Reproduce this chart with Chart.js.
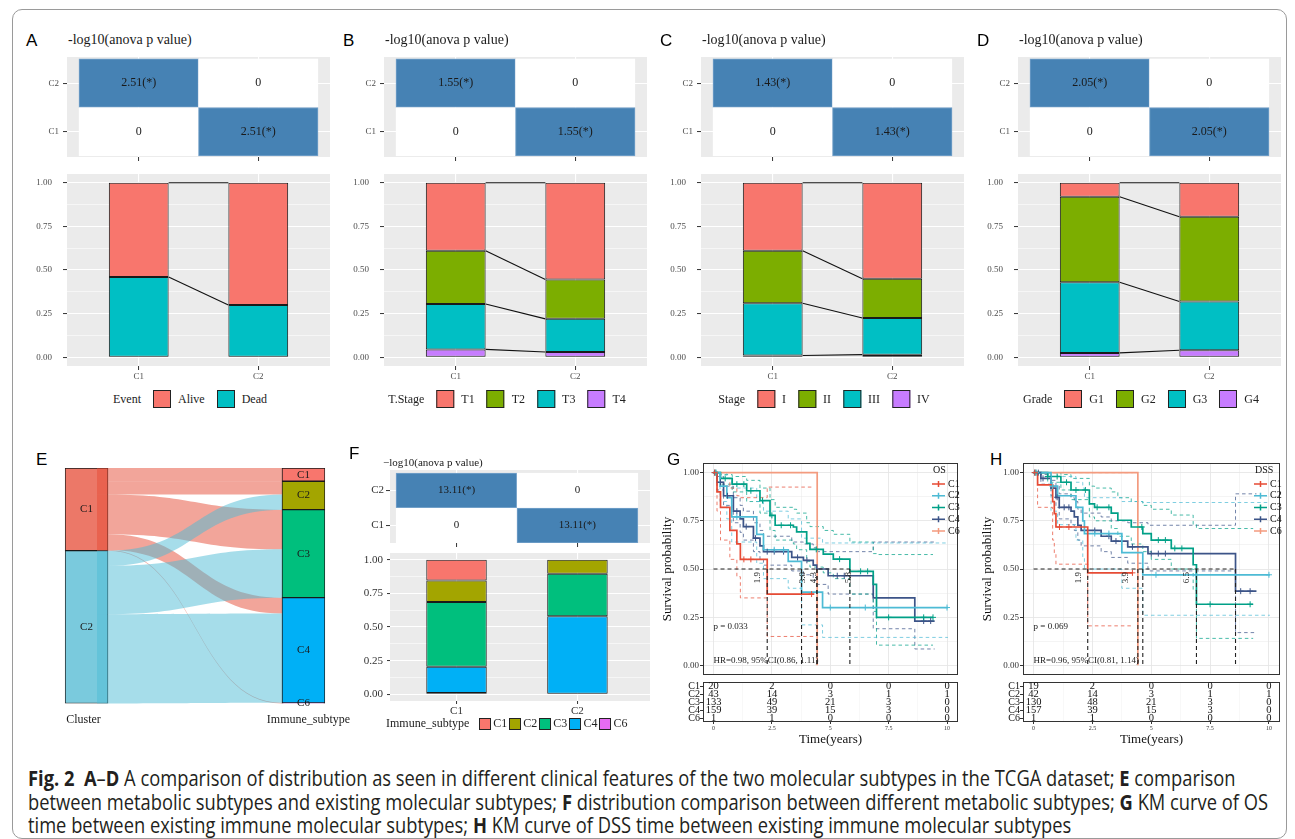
<!DOCTYPE html>
<html>
<head>
<meta charset="utf-8">
<title>Fig. 2</title>
<script src="https://cdn.jsdelivr.net/npm/chart.js@4.4.1/dist/chart.umd.min.js"></script>
<style>
  html, body { margin: 0; padding: 0; background: #fff; }
  #fig { position: relative; width: 1295px; height: 839px; overflow: hidden;
         font-family: "Liberation Serif", "Times New Roman", serif; color: #1a1a1a; }
  #fig canvas { position: absolute; }
  .t { position: absolute; white-space: nowrap; line-height: 1; }
  .legend { position: absolute; display: flex; align-items: center; white-space: nowrap; color: #222; }
  .legend .box { display: inline-block; box-sizing: border-box; border: 1px solid #222; }
  #frame { position: absolute; left: 12px; top: 9px; width: 1273px; height: 828px;
           border: 1px solid #9a9a9a; border-radius: 10px; }
  #caption { position: absolute; left: 28px; top: 767px; transform-origin: 0 0;
             font-family: "Open Sans", "Noto Sans", sans-serif;
             font-size: 21px; line-height: 23.5px; color: #231f20; white-space: nowrap; }
  #caption b { font-weight: 700; }
</style>
</head>
<body>
<div id="fig"><div id="frame"></div></div>
<script>
// ---------- A-D: clinical features by cluster ----------
const clusters = ['C1', 'C2'];
const anovaScores = [2.51, 1.55, 1.43, 2.05];

const eventLevels = ['Alive', 'Dead'];
const eventAlive = [0.54, 0.70];
const eventDead = [0.46, 0.30];

const tStageLevels = ['T1', 'T2', 'T3', 'T4'];
const tStageT1 = [0.39, 0.555];
const tStageT2 = [0.305, 0.225];
const tStageT3 = [0.26, 0.19];
const tStageT4 = [0.045, 0.03];

const stageLevels = ['I', 'II', 'III', 'IV'];
const stageI = [0.39, 0.55];
const stageII = [0.30, 0.225];
const stageIII = [0.30, 0.21];
const stageIV = [0.01, 0.015];

const gradeLevels = ['G1', 'G2', 'G3', 'G4'];
const gradeG1 = [0.08, 0.195];
const gradeG2 = [0.49, 0.485];
const gradeG3 = [0.405, 0.28];
const gradeG4 = [0.025, 0.04];

// ---------- E/F: immune subtypes ----------
const immuneLevels = ['C1', 'C2', 'C3', 'C4', 'C6'];
const flowFromC1 = [20, 20, 60, 24, 1];
const flowFromC2 = [0, 23, 73, 135, 0];
const immuneScore = 13.11;
const immuneC1 = [0.155, 0];
const immuneC2 = [0.16, 0.105];
const immuneC3 = [0.48, 0.315];
const immuneC4 = [0.195, 0.577];
const immuneC6 = [0.01, 0.003];

// ---------- G/H: survival ----------
const kmGroups = ['C1', 'C2', 'C3', 'C4', 'C6'];
const probTicks = [0, 0.125, 0.25, 0.375, 0.5, 0.625, 0.75, 0.875, 1];
const kmGridTimes = [0, 1.25, 2.5, 3.75, 5, 6.25, 7.5, 8.75, 10];
const riskTimes = [0, 2.5, 5, 7.5, 10];

const osTimeC1 = [0, 0.15, 0.3, 0.7, 1.0, 1.15, 2.3, 4.3];
const osSurvC1 = [1, 0.90, 0.82, 0.70, 0.63, 0.55, 0.37, 0.37];
const osUpperC1 = [1, 1, 0.97, 0.92, 0.88, 0.87, 0.925, 0.925];
const osLowerC1 = [1, 0.80, 0.65, 0.55, 0.46, 0.35, 0.15, 0.15];
const osCensorC1 = [0.05, 1.3, 1.6, 4.2];

const osTimeC2 = [0, 0.28, 0.57, 0.78, 1.85, 2.14, 3.2, 3.77, 4.67, 10.04];
const osSurvC2 = [1, 0.93, 0.87, 0.77, 0.68, 0.60, 0.54, 0.38, 0.30, 0.30];
const osUpperC2 = [1, 1, 0.97, 0.92, 0.85, 0.80, 0.76, 0.66, 0.635, 0.635];
const osLowerC2 = [1, 0.85, 0.76, 0.64, 0.53, 0.45, 0.40, 0.21, 0.145, 0.145];
const osCensorC2 = [0.1, 1.0, 2.6, 3.0, 5.0, 6.5, 10.0];

const osTimeC3 = [0, 0.3, 0.8, 1.42, 1.99, 2.42, 2.64, 3.42, 3.56, 3.99, 4.13, 4.7, 5.13, 5.84, 6.84, 6.98, 9.4];
const osSurvC3 = [1, 0.97, 0.94, 0.906, 0.855, 0.778, 0.727, 0.718, 0.693, 0.633, 0.602, 0.577, 0.551, 0.488, 0.42, 0.249, 0.249];
const osUpperC3 = [1, 0.99, 0.98, 0.96, 0.92, 0.86, 0.82, 0.81, 0.79, 0.74, 0.72, 0.70, 0.68, 0.64, 0.58, 0.575, 0.575];
const osLowerC3 = [1, 0.94, 0.90, 0.85, 0.79, 0.70, 0.65, 0.63, 0.60, 0.54, 0.51, 0.48, 0.45, 0.37, 0.28, 0.105, 0.105];
const osCensorC3 = [0.1, 0.5, 1.0, 1.3, 1.6, 2.1, 2.5, 2.9, 3.3, 4.4, 5.4, 6.3, 6.6, 7.5, 9.0, 9.4];

const osTimeC4 = [0, 0.15, 0.43, 0.85, 1.14, 1.28, 1.71, 1.99, 2.14, 3.35, 3.85, 4.27, 4.42, 4.91, 6.84, 8.62, 9.47];
const osSurvC4 = [1, 0.95, 0.88, 0.80, 0.76, 0.72, 0.66, 0.62, 0.59, 0.56, 0.545, 0.52, 0.50, 0.465, 0.35, 0.23, 0.23];
const osUpperC4 = [1, 0.98, 0.93, 0.87, 0.83, 0.80, 0.74, 0.70, 0.67, 0.64, 0.63, 0.61, 0.59, 0.59, 0.64, 0.64, 0.64];
const osLowerC4 = [1, 0.91, 0.83, 0.74, 0.69, 0.65, 0.59, 0.55, 0.52, 0.49, 0.47, 0.44, 0.42, 0.37, 0.19, 0.085, 0.085];
const osCensorC4 = [0.05, 0.3, 0.6, 1.0, 1.4, 1.8, 2.3, 2.6, 3.0, 3.6, 4.0, 5.3, 5.6, 9.0, 9.3];

const osTimeC6 = [0, 4.44];
const osSurvC6 = [1, 0];

const osMedians = [2.3, 3.77, 4.42, 4.44, 5.84];
const osMedianLabels = ['1.9', '3.8', '4.3', '5.8'];
const osRiskC1 = [20, 2, 0, 0, 0];
const osRiskC2 = [43, 14, 3, 1, 1];
const osRiskC3 = [133, 49, 21, 3, 0];
const osRiskC4 = [159, 39, 15, 3, 0];
const osRiskC6 = [1, 1, 0, 0, 0];

const dssTimeC1 = [0, 0.17, 0.81, 0.88, 0.95, 2.3, 4.22];
const dssSurvC1 = [1, 0.937, 0.85, 0.787, 0.718, 0.48, 0.48];
const dssUpperC1 = [1, 1, 1, 1, 1, 1, 1];
const dssLowerC1 = [1, 0.82, 0.65, 0.58, 0.525, 0.205, 0.205];
const dssCensorC1 = [0.05, 1.1, 1.5, 4.2];

const dssTimeC2 = [0, 0.74, 1.02, 1.8, 2.09, 2.16, 3.75, 4.64, 10.04];
const dssSurvC2 = [1, 0.93, 0.88, 0.82, 0.75, 0.684, 0.585, 0.47, 0.47];
const dssUpperC2 = [1, 1, 0.98, 0.95, 0.92, 0.87, 0.85, 0.845, 0.845];
const dssLowerC2 = [1, 0.80, 0.73, 0.65, 0.56, 0.50, 0.40, 0.26, 0.26];
const dssCensorC2 = [0.1, 0.8, 2.6, 3.2, 5.2, 6.9, 10.0];

const dssTimeC3 = [0, 0.6, 1.16, 1.59, 2.37, 2.59, 3.3, 3.58, 4.15, 4.64, 5.0, 5.85, 6.78, 6.92, 9.33];
const dssSurvC3 = [1, 0.98, 0.95, 0.91, 0.838, 0.82, 0.79, 0.753, 0.718, 0.684, 0.65, 0.607, 0.522, 0.317, 0.317];
const dssUpperC3 = [1, 1, 0.99, 0.97, 0.93, 0.92, 0.90, 0.87, 0.85, 0.83, 0.81, 0.78, 0.73, 0.71, 0.71];
const dssLowerC3 = [1, 0.95, 0.91, 0.86, 0.77, 0.75, 0.71, 0.67, 0.63, 0.59, 0.55, 0.50, 0.39, 0.14, 0.14];
const dssCensorC3 = [0.1, 0.6, 1.0, 1.4, 1.8, 2.2, 2.7, 3.2, 4.6, 5.3, 5.6, 6.0, 6.3, 7.5, 9.2];

const dssTimeC4 = [0, 0.31, 0.74, 0.95, 1.09, 1.59, 1.73, 1.88, 2.02, 2.87, 3.3, 4.0, 4.86, 8.58, 9.47];
const dssSurvC4 = [1, 0.97, 0.92, 0.872, 0.82, 0.80, 0.77, 0.727, 0.70, 0.67, 0.645, 0.615, 0.58, 0.385, 0.385];
const dssUpperC4 = [1, 0.99, 0.96, 0.93, 0.89, 0.87, 0.85, 0.81, 0.79, 0.77, 0.75, 0.74, 0.727, 0.89, 0.89];
const dssLowerC4 = [1, 0.94, 0.88, 0.82, 0.76, 0.73, 0.70, 0.65, 0.62, 0.59, 0.56, 0.53, 0.49, 0.17, 0.17];
const dssCensorC4 = [0.05, 0.2, 0.4, 1.0, 1.3, 1.5, 2.6, 3.2, 3.5, 4.2, 5.0, 5.3, 5.6, 8.8, 9.2];

const dssTimeC6 = [0, 4.43];
const dssSurvC6 = [1, 0];

const dssMedians = [2.3, 4.43, 4.64, 6.92, 8.58];
const dssMedianLabels = ['1.9', '3.9', '6.5'];
const dssRiskC1 = [19, 2, 0, 0, 0];
const dssRiskC2 = [42, 14, 3, 1, 1];
const dssRiskC3 = [130, 48, 21, 3, 0];
const dssRiskC4 = [157, 39, 15, 3, 0];
const dssRiskC6 = [1, 1, 0, 0, 0];

// ---------- styles ----------
const hue2 = ['#F8766D', '#00BFC4'];
const hue4 = ['#F8766D', '#7CAE00', '#00BFC4', '#C77CFF'];
const hue5 = ['#F8766D', '#A3A500', '#00BF7D', '#00B0F6', '#E76BF3'];
const npg = ['#E64B35', '#4DBBD5', '#00A087', '#3C5488', '#F39B7F'];
const serif = '"Liberation Serif", "Times New Roman", serif';
const letterCss = 'font-family:"Liberation Sans",Arial,sans-serif;font-size:17px;color:#000;';

Chart.defaults.font.family = serif;
Chart.defaults.color = '#4d4d4d';

const fig = document.getElementById('fig');

function addCanvas(left, top, width, height) {
  const c = document.createElement('canvas');
  c.width = width; c.height = height;
  c.style.left = left + 'px'; c.style.top = top + 'px';
  c.style.width = width + 'px'; c.style.height = height + 'px';
  fig.appendChild(c);
  return c;
}

function addText(html, left, top, css) {
  const d = document.createElement('div');
  d.className = 't';
  d.innerHTML = html;
  d.style.left = left + 'px';
  d.style.top = top + 'px';
  if (css) d.style.cssText += css;
  fig.appendChild(d);
  return d;
}

function addLegend(title, levels, colors, left, top, s) {
  const d = document.createElement('div');
  d.className = 'legend';
  d.style.left = left + 'px';
  d.style.top = top + 'px';
  d.style.fontSize = s.font + 'px';
  if (s.center) d.style.transform = 'translateX(-50%)';
  let html = '<span style="margin-right:' + s.titleGap + 'px">' + title + '</span>';
  levels.forEach((l, i) => {
    html += '<span class="box" style="width:' + s.box + 'px;height:' + s.box + 'px;background:' + colors[i] + '"></span>' +
            '<span style="margin:0 ' + s.gap + 'px 0 ' + s.labelGap + 'px">' + l + '</span>';
  });
  d.innerHTML = html;
  fig.appendChild(d);
}

const setTicks = vals => scale => { scale.ticks = vals.map(v => ({ value: v })); };
const isQuarter = v => Math.abs(v * 4 - Math.round(v * 4)) < 1e-6;
const isHalfStep = v => Math.abs(v / 2.5 - Math.round(v / 2.5)) < 1e-6;
// fixed axis sizes, without the half-label padding Chart.js adds at the ends
const fixWidth = w => s => { s.width = w; s.paddingTop = 0; s.paddingBottom = 0; };
const fixHeight = h => s => { s.height = h; s.paddingLeft = 0; s.paddingRight = 0; };

function grid(major, color, wMajor, wMinor, tickLen) {
  return {
    offset: false,
    color: color,
    lineWidth: c => (c.tick && major(c.tick.value)) ? wMajor : wMinor,
    tickColor: c => (c.tick && major(c.tick.value)) ? '#333333' : 'rgba(0,0,0,0)',
    tickWidth: 1,
    tickLength: tickLen,
    drawTicks: tickLen > 0
  };
}

function options(o) {
  o.responsive = false;
  o.animation = false;
  o.events = [];
  o.devicePixelRatio = 1;
  o.plugins = Object.assign({ legend: { display: false }, tooltip: { enabled: false } }, o.plugins || {});
  return o;
}

// ---------- plugins ----------
const panelBg = {
  id: 'panelBg',
  beforeDraw(chart, args, o) {
    if (!o.color) return;
    const a = chart.chartArea, ctx = chart.ctx;
    ctx.save();
    ctx.fillStyle = o.color;
    ctx.fillRect(a.left, a.top, a.right - a.left, a.bottom - a.top);
    ctx.restore();
  }
};

const frame = {
  id: 'frame',
  afterDatasetsDraw(chart, args, o) {
    if (!o.color) return;
    const a = chart.chartArea, ctx = chart.ctx;
    ctx.save();
    ctx.strokeStyle = o.color;
    ctx.lineWidth = 1;
    ctx.strokeRect(Math.round(a.left) + 0.5, Math.round(a.top) + 0.5,
                   Math.round(a.right - a.left) - 1, Math.round(a.bottom - a.top) - 1);
    ctx.restore();
  }
};

const cellText = {
  id: 'cellText',
  afterDatasetsDraw(chart, args, o) {
    if (!o.size) return;
    const ctx = chart.ctx;
    ctx.save();
    ctx.font = o.size + 'px ' + serif;
    ctx.fillStyle = '#1a1a1a';
    ctx.textAlign = 'center';
    ctx.textBaseline = 'middle';
    chart.data.datasets.forEach((ds, i) => {
      chart.getDatasetMeta(i).data.forEach((el, k) => {
        const v = ds.cellValues[k];
        ctx.fillText(v > 0 ? v.toFixed(2) + '(*)' : '0', el.x, (el.y + el.base) / 2);
      });
    });
    ctx.restore();
  }
};

const connectors = {
  id: 'connectors',
  afterDatasetsDraw(chart, args, o) {
    if (!o.on) return;
    const ctx = chart.ctx;
    ctx.save();
    ctx.strokeStyle = '#111';
    ctx.lineWidth = 1.1;
    chart.data.datasets.forEach((ds, i) => {
      const [a, b] = chart.getDatasetMeta(i).data;
      ctx.beginPath();
      ctx.moveTo(a.x + a.width / 2, a.y);
      ctx.lineTo(b.x - b.width / 2, b.y);
      ctx.stroke();
    });
    ctx.restore();
  }
};

// ---------- A-D ----------
function heatChart(canvas, score, g) {
  const rows = [[0, score], [score, 0]]; // C1 row, C2 row
  const datasets = rows.map(vals => ({
    data: vals.map((v, k) => ({ x: k + 1, y: 1 })),
    cellValues: vals,
    backgroundColor: vals.map(v => v > 0 ? '#4682B4' : '#FFFFFF'),
    borderColor: vals.map(v => v > 0 ? '#76A2CB' : '#FFFFFF'),
    borderWidth: 1,
    borderSkipped: false,
    barPercentage: 1,
    categoryPercentage: 1
  }));
  return new Chart(canvas, {
    type: 'bar',
    data: { datasets },
    plugins: [panelBg, cellText],
    options: options({
      layout: { padding: { top: g.padTop, right: g.padRight, left: 0, bottom: 0 } },
      scales: {
        x: {
          type: 'linear', offset: false, stacked: true, min: g.xMin, max: g.xMax,
          afterBuildTicks: setTicks([1, 2]),
          afterFit: fixHeight(g.xHeight),
          ticks: { callback: () => '', autoSkip: false, padding: 0, font: { size: 1 } },
          grid: grid(() => true, '#FFFFFF', 1.1, 1.1, 4),
          border: { display: false }
        },
        y: {
          type: 'linear', stacked: true, min: g.yMin, max: g.yMax,
          afterBuildTicks: setTicks([0.5, 1.5]),
          afterFit: fixWidth(g.yWidth),
          ticks: { callback: v => v < 1 ? clusters[0] : clusters[1], autoSkip: false,
                   font: { size: g.font }, color: g.tickColor, padding: g.yPad },
          grid: grid(() => true, '#FFFFFF', 1.1, 1.1, 4),
          border: { display: false }
        }
      },
      plugins: { panelBg: { color: '#EBEBEB' }, cellText: { size: g.cellFont } }
    })
  });
}

function stackChart(canvas, levels, series, colors, g) {
  const datasets = [];
  for (let i = levels.length - 1; i >= 0; i--) {
    datasets.push({
      label: levels[i],
      data: series[i].map((v, k) => ({ x: k + 1, y: v })),
      backgroundColor: colors[i],
      borderColor: '#1a1a1a',
      borderWidth: 1,
      borderSkipped: false,
      barPercentage: 0.5,
      categoryPercentage: 1
    });
  }
  return new Chart(canvas, {
    type: 'bar',
    data: { datasets },
    plugins: [panelBg, connectors],
    options: options({
      layout: { padding: { top: g.padTop, right: g.padRight, left: 0, bottom: 0 } },
      scales: {
        x: {
          type: 'linear', offset: false, stacked: true, min: g.xMin, max: g.xMax,
          afterBuildTicks: setTicks([1, 2]),
          afterFit: fixHeight(g.xHeight),
          ticks: { callback: v => clusters[v - 1], autoSkip: false, maxRotation: 0,
                   font: { size: g.font }, color: g.tickColor, padding: 1 },
          grid: grid(() => true, '#FFFFFF', 1.1, 1.1, g.tickLen),
          border: { display: false }
        },
        y: {
          type: 'linear', stacked: true, min: -0.05, max: 1.05,
          afterBuildTicks: setTicks(probTicks),
          afterFit: fixWidth(g.yWidth),
          ticks: { callback: v => isQuarter(v) ? v.toFixed(2) : '', autoSkip: false,
                   font: { size: g.font }, color: g.tickColor, padding: g.yPad },
          grid: grid(isQuarter, '#FFFFFF', 1.1, 0.55, g.tickLen),
          border: { display: false }
        }
      },
      plugins: { panelBg: { color: '#EBEBEB' }, connectors: { on: g.connect } }
    })
  });
}

const clinicalPanels = [
  { letter: 'A', title: 'Event', levels: eventLevels, series: [eventAlive, eventDead], colors: hue2 },
  { letter: 'B', title: 'T.Stage', levels: tStageLevels, series: [tStageT1, tStageT2, tStageT3, tStageT4], colors: hue4 },
  { letter: 'C', title: 'Stage', levels: stageLevels, series: [stageI, stageII, stageIII, stageIV], colors: hue4 },
  { letter: 'D', title: 'Grade', levels: gradeLevels, series: [gradeG1, gradeG2, gradeG3, gradeG4], colors: hue4 }
];

clinicalPanels.forEach((p, i) => {
  const ox = i * 317;
  addText(p.letter, ox + 26, 32, letterCss);
  addText('-log10(anova p value)', ox + 68, 33, 'font-size:14px;color:#1a1a1a;');
  heatChart(addCanvas(ox + 20, 52, 320, 115), anovaScores[i], {
    padTop: 5, padRight: 10, xHeight: 10, yWidth: 47, xMin: 0.4, xMax: 2.6,
    yMin: -0.02, yMax: 2.04, font: 9, tickColor: '#4d4d4d', yPad: 4, cellFont: 12
  });
  stackChart(addCanvas(ox + 20, 168, 320, 220), p.levels, p.series, p.colors, {
    padTop: 6, padRight: 10, xHeight: 22, yWidth: 47, xMin: 0.4, xMax: 2.6,
    font: 9, tickColor: '#4d4d4d', yPad: 11, tickLen: 4, connect: true
  });
  addLegend(p.title, p.levels, p.colors, ox + 196, 390,
    { font: 12, box: 18, titleGap: 12, labelGap: 7, gap: 12, center: true });
});

// ---------- E: alluvial ----------
const stratumWidth = 43;
const alluvial = {
  id: 'alluvial',
  afterDatasetDraw(chart, args) {
    if (args.index !== 1) return;
    const { ctx, scales: { x, y } } = chart;
    const half = stratumWidth / 2;
    const xs = x.getPixelForValue(0) + half - 11;
    const xl = x.getPixelForValue(0) + half;
    const xr = x.getPixelForValue(1) - half;
    const xm = (xl + xr) / 2;
    const sources = [flowFromC1, flowFromC2];
    const tint = ['rgba(230,75,53,0.5)', 'rgba(77,187,213,0.5)'];
    const rightTop = [];
    let acc = 0;
    immuneLevels.forEach((_, k) => { rightTop.push(acc); acc += flowFromC1[k] + flowFromC2[k]; });
    let left = 0;
    ctx.save();
    sources.forEach((src, s) => {
      ctx.fillStyle = tint[s];
      src.forEach((n, k) => {
        if (!n) return;
        const r0 = rightTop[k] + (s === 1 ? flowFromC1[k] : 0);
        const a0 = y.getPixelForValue(left), a1 = y.getPixelForValue(left + n);
        const b0 = y.getPixelForValue(r0), b1 = y.getPixelForValue(r0 + n);
        ctx.beginPath();
        ctx.moveTo(xs, a0);
        ctx.lineTo(xl, a0);
        ctx.bezierCurveTo(xm, a0, xm, b0, xr, b0);
        ctx.lineTo(xr, b1);
        ctx.bezierCurveTo(xm, b1, xm, a1, xl, a1);
        ctx.lineTo(xs, a1);
        ctx.closePath();
        ctx.fill();
        left += n;
      });
    });
    ctx.restore();
  },
  afterDatasetsDraw(chart) {
    const { ctx, chartArea: a, scales: { x } } = chart;
    ctx.save();
    ctx.fillStyle = '#1a1a1a';
    ctx.textAlign = 'center';
    ctx.textBaseline = 'middle';
    ctx.font = '11px ' + serif;
    chart.data.datasets.forEach((ds, i) => {
      chart.getDatasetMeta(i).data.forEach((el, k) => {
        ctx.fillText(ds.stratumLabels[k], el.x, (el.y + el.base) / 2);
      });
    });
    ctx.font = '12px ' + serif;
    ctx.fillText('Cluster', x.getPixelForValue(0) - 3, a.bottom + 16);
    ctx.fillText('Immune_subtype', x.getPixelForValue(1) + 5, a.bottom + 16);
    ctx.restore();
  }
};

(function drawAlluvial() {
  const sum = arr => arr.reduce((s, v) => s + v, 0);
  const nC1 = sum(flowFromC1), nC2 = sum(flowFromC2);
  const rightData = [];
  let acc = 0;
  immuneLevels.forEach((lv, k) => {
    const n = flowFromC1[k] + flowFromC2[k];
    rightData.push({ x: 1, y: [acc, acc + n] });
    acc += n;
  });
  addText('E', 36, 451, letterCss);
  new Chart(addCanvas(20, 445, 340, 295), {
    type: 'bar',
    data: {
      datasets: [
        { data: rightData, stratumLabels: immuneLevels, backgroundColor: hue5,
          borderColor: '#1a1a1a', borderWidth: 1, borderSkipped: false,
          barThickness: stratumWidth, grouped: false },
        { data: [{ x: 0, y: [0, nC1] }, { x: 0, y: [nC1, nC1 + nC2] }], stratumLabels: clusters,
          backgroundColor: ['rgb(236,120,104)', 'rgb(122,202,221)'],
          borderColor: '#1a1a1a', borderWidth: 1, borderSkipped: false,
          barThickness: stratumWidth, grouped: false }
      ]
    },
    plugins: [alluvial],
    options: options({
      layout: { padding: { left: 44.8, right: 34.8, top: 23, bottom: 36.5 } },
      scales: {
        x: { type: 'linear', offset: false, min: -0.1, max: 1.1, display: false },
        y: { type: 'linear', min: 0, max: nC1 + nC2, reverse: true, display: false }
      }
    })
  });
})();

// ---------- F ----------
addText('F', 349, 445, letterCss);
addText('\u2212log10(anova p value)', 383, 457, 'font-size:11px;color:#1a1a1a;');
heatChart(addCanvas(350, 465, 310, 85), immuneScore, {
  padTop: 5, padRight: 10, xHeight: 7, yWidth: 40, xMin: 0.45, xMax: 2.6,
  yMin: 0, yMax: 2.086, font: 11, tickColor: '#333', yPad: 2, cellFont: 11
});
stackChart(addCanvas(350, 548, 310, 170), immuneLevels,
  [immuneC1, immuneC2, immuneC3, immuneC4, immuneC6], hue5, {
    padTop: 5, padRight: 10, xHeight: 17, yWidth: 40, xMin: 0.45, xMax: 2.6,
    font: 11, tickColor: '#333', yPad: 4, tickLen: 3, connect: false
  });
addLegend('Immune_subtype', immuneLevels, hue5, 386, 716,
  { font: 12, box: 12, titleGap: 10, labelGap: 2, gap: 2, center: false });

// ---------- G/H: KM curves ----------
function stepValue(times, surv, t) {
  let v = surv[0];
  for (let i = 0; i < times.length; i++) if (times[i] <= t) v = surv[i];
  return v;
}

const kmExtras = {
  id: 'kmExtras',
  afterDatasetsDraw(chart, args, o) {
    if (!o.title) return;
    const { ctx, chartArea: a, scales: { x, y } } = chart;
    ctx.save();
    ctx.font = '10px ' + serif;
    ctx.fillStyle = '#111';
    ctx.textAlign = 'left';
    ctx.textBaseline = 'middle';
    const lx = a.right - 26;
    ctx.fillText(o.title, lx + 1, a.top + 7);
    o.names.forEach((n, i) => {
      const yy = a.top + 21 + i * 11.75;
      ctx.strokeStyle = o.colors[i];
      ctx.lineWidth = 1.5;
      ctx.beginPath();
      ctx.moveTo(lx, yy); ctx.lineTo(lx + 13, yy);
      ctx.moveTo(lx + 6.5, yy - 3); ctx.lineTo(lx + 6.5, yy + 3);
      ctx.stroke();
      ctx.fillStyle = '#111';
      ctx.fillText(n, lx + 16, yy);
    });
    ctx.font = '9px ' + serif;
    ctx.fillStyle = '#222';
    ctx.fillText(o.pText, x.getPixelForValue(0), y.getPixelForValue(0.2));
    ctx.fillText(o.hrText, x.getPixelForValue(0), y.getPixelForValue(0.025));
    ctx.textAlign = 'center';
    o.medianLabels.forEach(l => {
      ctx.save();
      ctx.translate(x.getPixelForValue(parseFloat(l)), y.getPixelForValue(0.455));
      ctx.rotate(-Math.PI / 2);
      ctx.fillText(l, 0, 0);
      ctx.restore();
    });
    ctx.restore();
  }
};

const riskText = {
  id: 'riskText',
  afterDatasetsDraw(chart, args, o) {
    if (!o.on) return;
    const ctx = chart.ctx;
    const ds = chart.data.datasets[0];
    ctx.save();
    ctx.font = '10.5px ' + serif;
    ctx.fillStyle = '#111';
    ctx.textAlign = 'center';
    ctx.textBaseline = 'middle';
    chart.getDatasetMeta(0).data.forEach((el, k) => ctx.fillText(String(ds.riskValues[k]), el.x, el.y));
    ctx.restore();
  }
};

function kmChart(canvas, groups, medians, ex) {
  const maxMed = Math.max(...medians);
  const medianData = [{ x: 0, y: 0.5 }, { x: maxMed, y: 0.5 }, { x: maxMed, y: null }];
  medians.forEach(m => medianData.push({ x: m, y: 0.5 }, { x: m, y: 0 }, { x: m, y: null }));
  const datasets = [{ data: medianData, borderColor: '#222', borderWidth: 1.1, borderDash: [4, 3],
                      pointRadius: 0, spanGaps: false }];
  groups.forEach(g => {
    if (!g.censor) return;
    datasets.push({
      data: g.censor.map(t => ({ x: t, y: stepValue(g.time, g.surv, t) })),
      showLine: false, pointStyle: 'cross', pointRadius: 3, pointBorderWidth: 1,
      pointBorderColor: g.color, borderColor: g.color
    });
  });
  groups.forEach(g => datasets.push({
    data: g.time.map((t, i) => ({ x: t, y: g.surv[i] })),
    stepped: true, borderColor: g.color, borderWidth: 1.7, pointRadius: 0
  }));
  groups.forEach(g => {
    if (!g.upper) return;
    [g.upper, g.lower].forEach(b => datasets.push({
      data: g.time.map((t, i) => ({ x: t, y: b[i] })),
      stepped: true, borderColor: g.color + 'CC', borderWidth: 0.9, borderDash: [3.5, 3], pointRadius: 0
    }));
  });
  return new Chart(canvas, {
    type: 'line',
    data: { datasets },
    plugins: [frame, kmExtras],
    options: options({
      layout: { padding: { top: 8, right: ex.padRight, left: 0, bottom: 0 } },
      scales: {
        x: {
          type: 'linear', min: -0.45, max: 10.47,
          afterBuildTicks: setTicks(kmGridTimes),
          afterFit: fixHeight(1),
          ticks: { display: false },
          grid: grid(isHalfStep, '#E6E6E6', 0.9, 0.45, 0),
          border: { display: false }
        },
        y: {
          type: 'linear', min: -0.05, max: 1.05,
          afterBuildTicks: setTicks(probTicks),
          afterFit: fixWidth(43),
          ticks: { callback: v => isQuarter(v) ? v.toFixed(2) : '', autoSkip: false,
                   font: { size: 9 }, color: '#333', padding: 1 },
          grid: grid(isQuarter, '#E6E6E6', 0.9, 0.45, 3),
          title: { display: true, text: 'Survival probability', font: { size: 13 }, color: '#111',
                   padding: { top: 0, bottom: 2 } },
          border: { display: false }
        }
      },
      plugins: {
        frame: { color: '#333' },
        kmExtras: { title: ex.title, names: groups.map(g => g.name), colors: groups.map(g => g.color),
                    pText: ex.pText, hrText: ex.hrText, medianLabels: ex.medianLabels }
      }
    })
  });
}

function riskChart(canvas, risk, padRight) {
  const data = [], vals = [];
  kmGroups.forEach((g, i) => riskTimes.forEach((t, j) => { data.push({ x: t, y: g }); vals.push(risk[i][j]); }));
  return new Chart(canvas, {
    type: 'line',
    data: { datasets: [{ data, riskValues: vals, showLine: false, pointRadius: 0 }] },
    plugins: [frame, riskText],
    options: options({
      layout: { padding: { top: 2, right: padRight, left: 0, bottom: 0 } },
      scales: {
        x: {
          type: 'linear', min: -0.45, max: 10.47,
          afterBuildTicks: setTicks(kmGridTimes),
          afterFit: fixHeight(28),
          ticks: { callback: v => isHalfStep(v) ? String(v) : '', autoSkip: false, maxRotation: 0,
                   font: { size: 6 }, color: '#333', padding: 1 },
          grid: grid(isHalfStep, '#EDEDED', 0.8, 0.4, 2),
          title: { display: true, text: 'Time(years)', font: { size: 13 }, color: '#111',
                   padding: { top: 0, bottom: 3 } },
          border: { display: false }
        },
        y: {
          type: 'category', labels: kmGroups, offset: true,
          afterFit: fixWidth(43),
          ticks: { font: { size: 10 }, color: '#111', padding: 0, autoSkip: false },
          grid: { drawOnChartArea: false, tickLength: 3, tickColor: '#333' },
          border: { display: false }
        }
      },
      plugins: { frame: { color: '#333' }, riskText: { on: true } }
    })
  });
}

const osGroups = [
  { name: 'C1', color: npg[0], time: osTimeC1, surv: osSurvC1, upper: osUpperC1, lower: osLowerC1, censor: osCensorC1 },
  { name: 'C2', color: npg[1], time: osTimeC2, surv: osSurvC2, upper: osUpperC2, lower: osLowerC2, censor: osCensorC2 },
  { name: 'C3', color: npg[2], time: osTimeC3, surv: osSurvC3, upper: osUpperC3, lower: osLowerC3, censor: osCensorC3 },
  { name: 'C4', color: npg[3], time: osTimeC4, surv: osSurvC4, upper: osUpperC4, lower: osLowerC4, censor: osCensorC4 },
  { name: 'C6', color: npg[4], time: osTimeC6, surv: osSurvC6 }
];
const dssGroups = [
  { name: 'C1', color: npg[0], time: dssTimeC1, surv: dssSurvC1, upper: dssUpperC1, lower: dssLowerC1, censor: dssCensorC1 },
  { name: 'C2', color: npg[1], time: dssTimeC2, surv: dssSurvC2, upper: dssUpperC2, lower: dssLowerC2, censor: dssCensorC2 },
  { name: 'C3', color: npg[2], time: dssTimeC3, surv: dssSurvC3, upper: dssUpperC3, lower: dssLowerC3, censor: dssCensorC3 },
  { name: 'C4', color: npg[3], time: dssTimeC4, surv: dssSurvC4, upper: dssUpperC4, lower: dssLowerC4, censor: dssCensorC4 },
  { name: 'C6', color: npg[4], time: dssTimeC6, surv: dssSurvC6 }
];

addText('G', 667, 451, letterCss);
kmChart(addCanvas(660, 455, 310, 225), osGroups, osMedians,
  { title: 'OS', pText: 'p = 0.033', hrText: 'HR=0.98, 95%CI(0.86, 1.11)', medianLabels: osMedianLabels, padRight: 12 });
riskChart(addCanvas(660, 680, 310, 70), [osRiskC1, osRiskC2, osRiskC3, osRiskC4, osRiskC6], 12);

addText('H', 990, 451, letterCss);
kmChart(addCanvas(980, 455, 310, 225), dssGroups, dssMedians,
  { title: 'DSS', pText: 'p = 0.069', hrText: 'HR=0.96, 95%CI(0.81, 1.14)', medianLabels: dssMedianLabels, padRight: 10 });
riskChart(addCanvas(980, 680, 310, 70), [dssRiskC1, dssRiskC2, dssRiskC3, dssRiskC4, dssRiskC6], 10);

// ---------- caption ----------
const captionLines = [
  '<b>Fig. 2</b>&nbsp; <b>A</b>\u2013<b>D</b> A comparison of distribution as seen in different clinical features of the two molecular subtypes in the TCGA dataset; <b>E</b> comparison',
  'between metabolic subtypes and existing molecular subtypes; <b>F</b> distribution comparison between different metabolic subtypes; <b>G</b> KM curve of OS',
  'time between existing immune molecular subtypes; <b>H</b> KM curve of DSS time between existing immune molecular subtypes'
];
const cap = document.createElement('div');
cap.id = 'caption';
cap.innerHTML = captionLines.map(l => '<div><span>' + l + '</span></div>').join('');
fig.appendChild(cap);
const line2 = cap.children[1].firstChild.getBoundingClientRect().width;
cap.style.transform = 'scaleX(' + (1240 / line2) + ')';
</script>
</body>
</html>
